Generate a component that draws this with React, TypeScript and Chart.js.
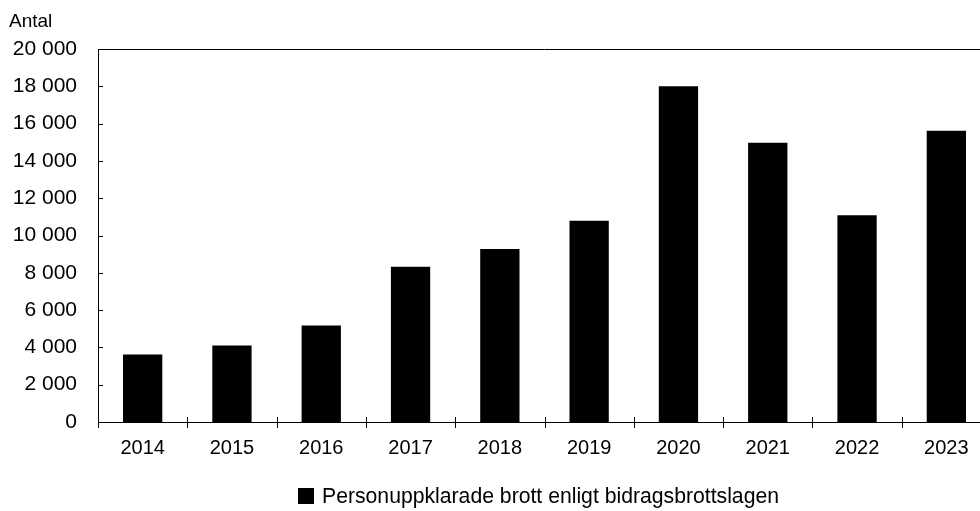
import React, { useEffect, useRef } from "react";
import { Chart, registerables } from "chart.js";

Chart.register(...registerables);

const categories = ["2014", "2015", "2016", "2017", "2018", "2019", "2020", "2021", "2022", "2023"];
const seriesName = "Personuppklarade brott enligt bidragsbrottslagen";
const values = [3620, 4100, 5180, 8330, 9270, 10790, 18000, 14970, 11080, 15610];
const yAxisTitle = "Antal";
const yMin = 0;
const yMax = 20000;
const yStep = 2000;

const FONT = "'Liberation Sans', Arial, sans-serif";

const fmt = (v: number) => String(v).replace(/\B(?=(\d{3})+(?!\d))/g, " ");

const framePlugin = {
  id: "frame",
  afterDraw(chart: any) {
    const ctx = chart.ctx;
    const { left, right, top, bottom } = chart.chartArea;
    const x = chart.scales.x;
    const y = chart.scales.y;
    ctx.save();
    ctx.strokeStyle = "#000";
    ctx.lineWidth = 1;
    // top frame line
    ctx.beginPath();
    ctx.moveTo(left, Math.round(top) + 0.5);
    ctx.lineTo(right, Math.round(top) + 0.5);
    ctx.stroke();
    // y inner ticks
    for (let v = yMin; v <= yMax; v += yStep) {
      const py = Math.round(y.getPixelForValue(v)) + 0.5;
      ctx.beginPath();
      ctx.moveTo(left, py);
      ctx.lineTo(left + 5, py);
      ctx.stroke();
    }
    // x ticks at category boundaries
    const n = categories.length;
    const half = (x.getPixelForValue(1) - x.getPixelForValue(0)) / 2;
    for (let i = 0; i <= n; i++) {
      const px = Math.round(x.getPixelForValue(i) - half) + 0.5;
      ctx.beginPath();
      ctx.moveTo(px, bottom - 5);
      ctx.lineTo(px, bottom + 6);
      ctx.stroke();
    }
    // axis title
    ctx.fillStyle = "#000";
    ctx.font = `19px ${FONT}`;
    ctx.textAlign = "left";
    ctx.textBaseline = "alphabetic";
    ctx.fillText(yAxisTitle, 9, 27);
    // legend
    ctx.fillStyle = "#000";
    ctx.fillRect(298, 488, 16, 16);
    ctx.font = `21.2px ${FONT}`;
    ctx.textBaseline = "middle";
    ctx.fillText(seriesName, 322, 497);
    ctx.restore();
  },
};

export default function App() {
  const ref = useRef<HTMLCanvasElement | null>(null);
  useEffect(() => {
    document.body.style.margin = "0";
    const canvas = ref.current!;
    const chart = new Chart(canvas, {
      type: "bar",
      data: {
        labels: categories,
        datasets: [
          {
            label: seriesName,
            data: values,
            backgroundColor: "#000",
            borderWidth: 0,
            categoryPercentage: 1,
            barPercentage: 0.44,
          },
        ],
      },
      options: {
        responsive: false,
        animation: false,
        devicePixelRatio: 1,
        layout: { padding: { top: 49, left: 0, right: 0, bottom: 0 } },
        plugins: { legend: { display: false }, tooltip: { enabled: false } },
        scales: {
          x: {
            grid: { display: false, drawTicks: false },
            border: { display: true, color: "#000", width: 1 },
            ticks: {
              color: "#000",
              font: { family: FONT, size: 20 },
              padding: 14,
              maxRotation: 0,
              autoSkip: false,
            },
            afterFit: (s: any) => {
              s.height = 89;
            },
          },
          y: {
            min: yMin,
            max: yMax,
            grid: { display: false, drawTicks: false },
            border: { display: true, color: "#000", width: 1 },
            ticks: {
              stepSize: yStep,
              color: "#000",
              font: { family: FONT, size: 21 },
              padding: 21,
              callback: (v: any) => fmt(Number(v)),
            },
            afterFit: (s: any) => {
              s.width = 98;
            },
          },
        },
      },
      plugins: [framePlugin],
    });
    return () => chart.destroy();
  }, []);
  return (
    <div style={{ width: 980, height: 511, overflow: "hidden", position: "relative", background: "#fff" }}>
      <canvas ref={ref} width={991} height={511} style={{ display: "block" }} />
    </div>
  );
}
